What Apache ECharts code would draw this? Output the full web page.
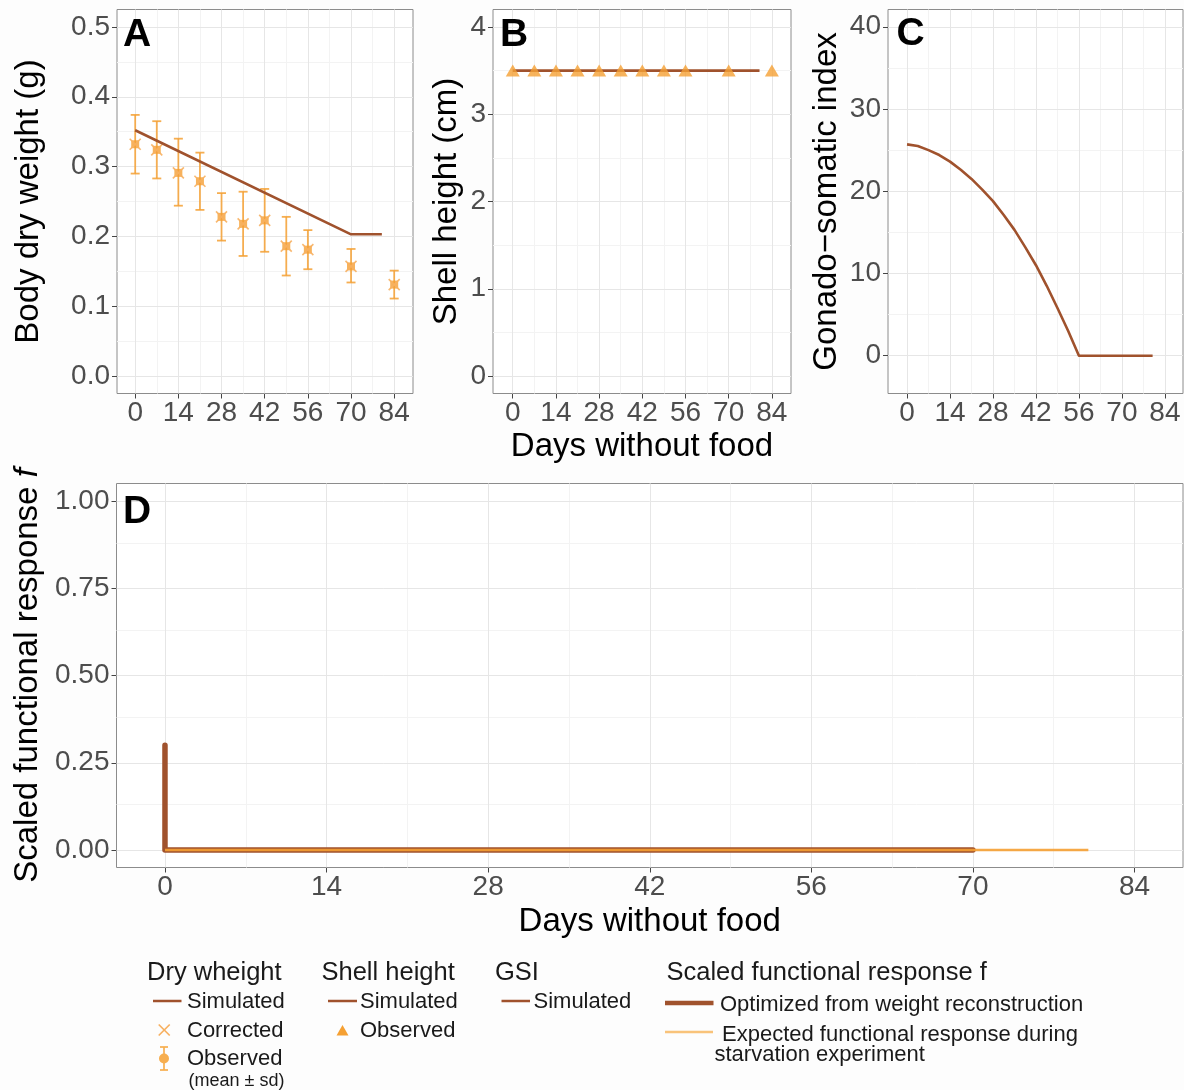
<!DOCTYPE html>
<html><head><meta charset="utf-8">
<script src="https://cdn.jsdelivr.net/npm/echarts@6/dist/echarts.min.js"></script>
<style>html,body{margin:0;padding:0;background:#fdfdfd}#c{width:1184px;height:1090px}</style>
</head><body><div id="c"></div>
<script>
// ---------------- data ----------------
const days = [0, 7, 14, 21, 28, 35, 42, 49, 56, 70, 84];
const dryObsMean = [0.332, 0.324, 0.291, 0.279, 0.228, 0.218, 0.223, 0.186, 0.181, 0.157, 0.131];
const dryObsLow  = [0.290, 0.283, 0.244, 0.238, 0.194, 0.172, 0.178, 0.144, 0.153, 0.134, 0.111];
const dryObsHigh = [0.374, 0.365, 0.340, 0.320, 0.262, 0.264, 0.268, 0.228, 0.209, 0.182, 0.151];
const dryCorrected = [0.332, 0.324, 0.291, 0.279, 0.228, 0.218, 0.223, 0.186, 0.181, 0.157, 0.131];
const drySimDays = [0, 70, 80];
const drySimValues = [0.352, 0.203, 0.203];

const shellObs = [3.5, 3.5, 3.5, 3.5, 3.5, 3.5, 3.5, 3.5, 3.5, 3.5, 3.5];
const shellSimDays = [0, 80];
const shellSimValues = [3.5, 3.5];

const gsiDays = [0, 3.5, 7, 10.5, 14, 17.5, 21, 24.5, 28, 31.5, 35, 38.5, 42, 45.5, 49, 52.5, 56, 80];
const gsiValues = [25.7, 25.5, 25.0, 24.4, 23.6, 22.6, 21.5, 20.2, 18.8, 17.1, 15.3, 13.2, 11.0, 8.5, 5.8, 3.0, 0, 0];

const fOptDays = [0, 0, 70];
const fOptValues = [0.30, 0, 0];
const fExpDays = [0, 80];
const fExpValues = [0, 0];

const dayTicks = [0, 14, 28, 42, 56, 70, 84];
const dayMinor = [7, 21, 35, 49, 63, 77];
const dryTicks = [0, 0.1, 0.2, 0.3, 0.4, 0.5];
const dryMinor = [0.05, 0.15, 0.25, 0.35, 0.45];
const shellTicks = [0, 1, 2, 3, 4];
const shellMinor = [0.5, 1.5, 2.5, 3.5];
const gsiTicks = [0, 10, 20, 30, 40];
const gsiMinor = [5, 15, 25, 35];
const fTicks = [0, 0.25, 0.5, 0.75, 1];
const fMinor = [0.125, 0.375, 0.625, 0.875];

// ---------------- styling ----------------
const FONT = '"Liberation Sans", Arial, sans-serif';
const BROWN = '#A0522D';
const ORANGE = '#F5A033';
const MAJOR = '#E6E6E6';
const MINOR = '#F3F3F3';

const pairs = (xs, ys) => xs.map((x, i) => [x, ys[i]]);

const grids = [
  {left: 117, top: 9.5, width: 296, height: 384},
  {left: 493, top: 9.5, width: 298, height: 384},
  {left: 888, top: 9.5, width: 295, height: 384},
  {left: 116.5, top: 483.5, width: 1066.5, height: 384}
].map(g => Object.assign(g, {show: true, borderColor: '#8c8c8c', borderWidth: 1, backgroundColor: '#ffffff'}));

const xRanges = [[-5.9, 90.1], [-6.4, 90.2], [-6.2, 89.9], [-4.2, 88.2]];
const yRanges = [[-0.025, 0.525], [-0.2, 4.2], [-4.6, 42.1], [-0.05, 1.05]];
const xNames = ['', 'Days without food', '', 'Days without food'];
const xNameGap = [37, 37, 37, 38];
const yTicksAll = [dryTicks, shellTicks, gsiTicks, fTicks];
const yMinorAll = [dryMinor, shellMinor, gsiMinor, fMinor];
const yFormat = [v => v.toFixed(1), v => String(v), v => String(v), v => v.toFixed(2)];
const yNameGap = [72, 30, 45, 72];

const xAxes = xRanges.map((r, i) => ({
  type: 'value', gridIndex: i, min: r[0], max: r[1],
  axisLine: {show: false, onZero: false},
  axisTick: {show: true, customValues: dayTicks, length: 5, lineStyle: {color: '#444', width: 1}},
  axisLabel: {customValues: dayTicks, fontSize: 28, color: '#4d4d4d', margin: 6, fontFamily: FONT},
  splitLine: {show: false},
  name: xNames[i], nameLocation: 'middle', nameGap: xNameGap[i],
  nameTextStyle: {fontSize: 33, color: '#000', fontFamily: FONT}
}));

const yAxes = yRanges.map((r, i) => ({
  type: 'value', gridIndex: i, min: r[0], max: r[1],
  axisLine: {show: false, onZero: false},
  axisTick: {show: true, customValues: yTicksAll[i], length: 5, lineStyle: {color: '#444', width: 1}},
  axisLabel: {customValues: yTicksAll[i], fontSize: 28, color: '#4d4d4d', margin: 7, fontFamily: FONT, formatter: yFormat[i]},
  splitLine: {show: false},
  nameLocation: 'middle', nameGap: yNameGap[i], nameRotate: 90,
  nameTextStyle: {fontSize: 33, color: '#000', fontFamily: FONT}
}));
yAxes[0].name = 'Body dry weight (g)';
yAxes[1].name = 'Shell height (cm)';
yAxes[2].name = 'Gonado\u2212somatic index';
yAxes[3].name = '{a|Scaled functional response }{b|f}';
yAxes[3].nameTextStyle.rich = {
  a: {fontSize: 33, color: '#000', fontFamily: FONT},
  b: {fontSize: 33, color: '#000', fontFamily: FONT, fontStyle: 'italic'}
};

function gridSeries(i, yMajor, yMinor) {
  const ml = [];
  dayMinor.forEach(v => ml.push({xAxis: v, lineStyle: {color: MINOR}}));
  yMinor.forEach(v => ml.push({yAxis: v, lineStyle: {color: MINOR}}));
  dayTicks.forEach(v => ml.push({xAxis: v, lineStyle: {color: MAJOR}}));
  yMajor.forEach(v => ml.push({yAxis: v, lineStyle: {color: MAJOR}}));
  return {
    type: 'line', xAxisIndex: i, yAxisIndex: i, z: 1, silent: true,
    data: [[xRanges[i][0], yRanges[i][0]]], symbol: 'none', lineStyle: {opacity: 0},
    markLine: {z: 1, silent: true, symbol: ['none', 'none'], label: {show: false}, animation: false,
      lineStyle: {type: 'solid', width: 1}, emphasis: {disabled: true}, data: ml}
  };
}

const series = [];
for (let i = 0; i < 4; i++) series.push(gridSeries(i, yTicksAll[i], yMinorAll[i]));

// Panel A
series.push({
  type: 'custom', xAxisIndex: 0, yAxisIndex: 0, z: 10, silent: true,
  data: days.map((d, i) => [d, dryObsLow[i], dryObsHigh[i]]),
  encode: {x: 0, y: [1, 2]},
  renderItem: (params, api) => {
    const x = api.value(0), lo = api.value(1), hi = api.value(2);
    const p1 = api.coord([x, hi]), p2 = api.coord([x, lo]);
    const hw = 4.5;
    const st = {stroke: ORANGE, lineWidth: 1.8, opacity: 0.85};
    return {type: 'group', children: [
      {type: 'line', shape: {x1: p1[0], y1: p1[1], x2: p2[0], y2: p2[1]}, style: st},
      {type: 'line', shape: {x1: p1[0] - hw, y1: p1[1], x2: p1[0] + hw, y2: p1[1]}, style: st},
      {type: 'line', shape: {x1: p2[0] - hw, y1: p2[1], x2: p2[0] + hw, y2: p2[1]}, style: st}
    ]};
  }
});
series.push({
  type: 'scatter', xAxisIndex: 0, yAxisIndex: 0, z: 11, silent: true,
  data: pairs(days, dryObsMean), symbol: 'rect', symbolSize: 8,
  itemStyle: {color: ORANGE}
});
series.push({
  type: 'custom', xAxisIndex: 0, yAxisIndex: 0, z: 12, silent: true,
  data: pairs(days, dryCorrected),
  renderItem: (params, api) => {
    const p = api.coord([api.value(0), api.value(1)]);
    const h = 5.5;
    const st = {stroke: '#F7B060', lineWidth: 1.6, opacity: 0.9};
    return {type: 'group', children: [
      {type: 'line', shape: {x1: p[0] - h, y1: p[1] - h, x2: p[0] + h, y2: p[1] + h}, style: st},
      {type: 'line', shape: {x1: p[0] - h, y1: p[1] + h, x2: p[0] + h, y2: p[1] - h}, style: st}
    ]};
  }
});
series.push({
  type: 'line', xAxisIndex: 0, yAxisIndex: 0, z: 13, silent: true,
  data: pairs(drySimDays, drySimValues), symbol: 'none',
  lineStyle: {color: BROWN, width: 2.6}
});

// Panel B
series.push({
  type: 'line', xAxisIndex: 1, yAxisIndex: 1, z: 10, silent: true,
  data: pairs(shellSimDays, shellSimValues), symbol: 'none',
  lineStyle: {color: BROWN, width: 2.6}
});
series.push({
  type: 'scatter', xAxisIndex: 1, yAxisIndex: 1, z: 11, silent: true,
  data: pairs(days, shellObs), symbol: 'triangle', symbolSize: [14, 12],
  itemStyle: {color: ORANGE}
});

// Panel C
series.push({
  type: 'line', xAxisIndex: 2, yAxisIndex: 2, z: 10, silent: true,
  data: pairs(gsiDays, gsiValues), symbol: 'none', smooth: false,
  lineStyle: {color: BROWN, width: 2.6, join: 'round'}
});

// Panel D
series.push({
  type: 'line', xAxisIndex: 3, yAxisIndex: 3, z: 10, silent: true,
  data: pairs(fOptDays, fOptValues), symbol: 'none',
  lineStyle: {color: BROWN, width: 5.5, cap: 'round', join: 'round'}
});
series.push({
  type: 'line', xAxisIndex: 3, yAxisIndex: 3, z: 11, silent: true,
  data: pairs(fExpDays, fExpValues), symbol: 'none',
  lineStyle: {color: ORANGE, width: 2.5, opacity: 0.9}
});

// ---------------- text / legend ----------------
function txt(x, y, text, size, opts) {
  return Object.assign({type: 'text', x: x, y: y, silent: true, z: 100,
    style: {text: text, font: (opts && opts.bold ? 'bold ' : '') + size + 'px ' + FONT,
      fill: (opts && opts.fill) || '#1a1a1a', align: 'left', verticalAlign: 'middle',
      textAlign: 'left', textVerticalAlign: 'middle'}});
}
function ln(x1, y1, x2, y2, color, w) {
  return {type: 'line', silent: true, z: 100, shape: {x1, y1, x2, y2}, style: {stroke: color, lineWidth: w}};
}
const graphic = [
  txt(123, 35, 'A', 39, {bold: true, fill: '#000'}),
  txt(500, 35, 'B', 39, {bold: true, fill: '#000'}),
  txt(896.5, 34, 'C', 39, {bold: true, fill: '#000'}),
  txt(123, 512, 'D', 39, {bold: true, fill: '#000'}),

  txt(147, 973, 'Dry wheight', 25.5),
  txt(321.5, 973, 'Shell height', 25.5),
  txt(495, 973, 'GSI', 25.5),
  txt(666.5, 973, 'Scaled functional response f', 25.5),

  ln(153, 1001, 181.5, 1001, BROWN, 2.5), txt(187, 1002, 'Simulated', 22),
  ln(328, 1001, 357, 1001, BROWN, 2.5), txt(360, 1002, 'Simulated', 22),
  ln(501.5, 1001, 530, 1001, BROWN, 2.5), txt(533.5, 1002, 'Simulated', 22),

  ln(158.7, 1024.5, 169.7, 1035.5, '#F7B060', 1.7), ln(158.7, 1035.5, 169.7, 1024.5, '#F7B060', 1.7),
  txt(187, 1031, 'Corrected', 22),
  {type: 'polygon', silent: true, z: 100, shape: {points: [[342.5, 1025], [336.5, 1035.5], [348.5, 1035.5]]}, style: {fill: ORANGE}},
  txt(360, 1031, 'Observed', 22),

  ln(164, 1047, 164, 1070, '#F7AE4F', 1.7), ln(160, 1047, 168, 1047, '#F7AE4F', 1.7), ln(160, 1070, 168, 1070, '#F7AE4F', 1.7),
  {type: 'circle', silent: true, z: 100, shape: {cx: 164, cy: 1058.5, r: 5}, style: {fill: '#F7AE4F'}},
  txt(187, 1059, 'Observed', 22),
  txt(188.5, 1081, '(mean \u00b1 sd)', 18),

  ln(665, 1003, 713.5, 1003, BROWN, 4.5), txt(720, 1005, 'Optimized from weight reconstruction', 22),
  ln(665, 1032, 713, 1032, '#F9C37A', 2.5), txt(722, 1035, 'Expected functional response during', 22),
  txt(714.5, 1055, 'starvation experiment', 22)
];

const chart = echarts.init(document.getElementById('c'), null, {renderer: 'canvas'});
chart.setOption({
  backgroundColor: '#fdfdfd',
  animation: false,
  grid: grids,
  xAxis: xAxes,
  yAxis: yAxes,
  series: series,
  graphic: graphic
});
</script></body></html>
